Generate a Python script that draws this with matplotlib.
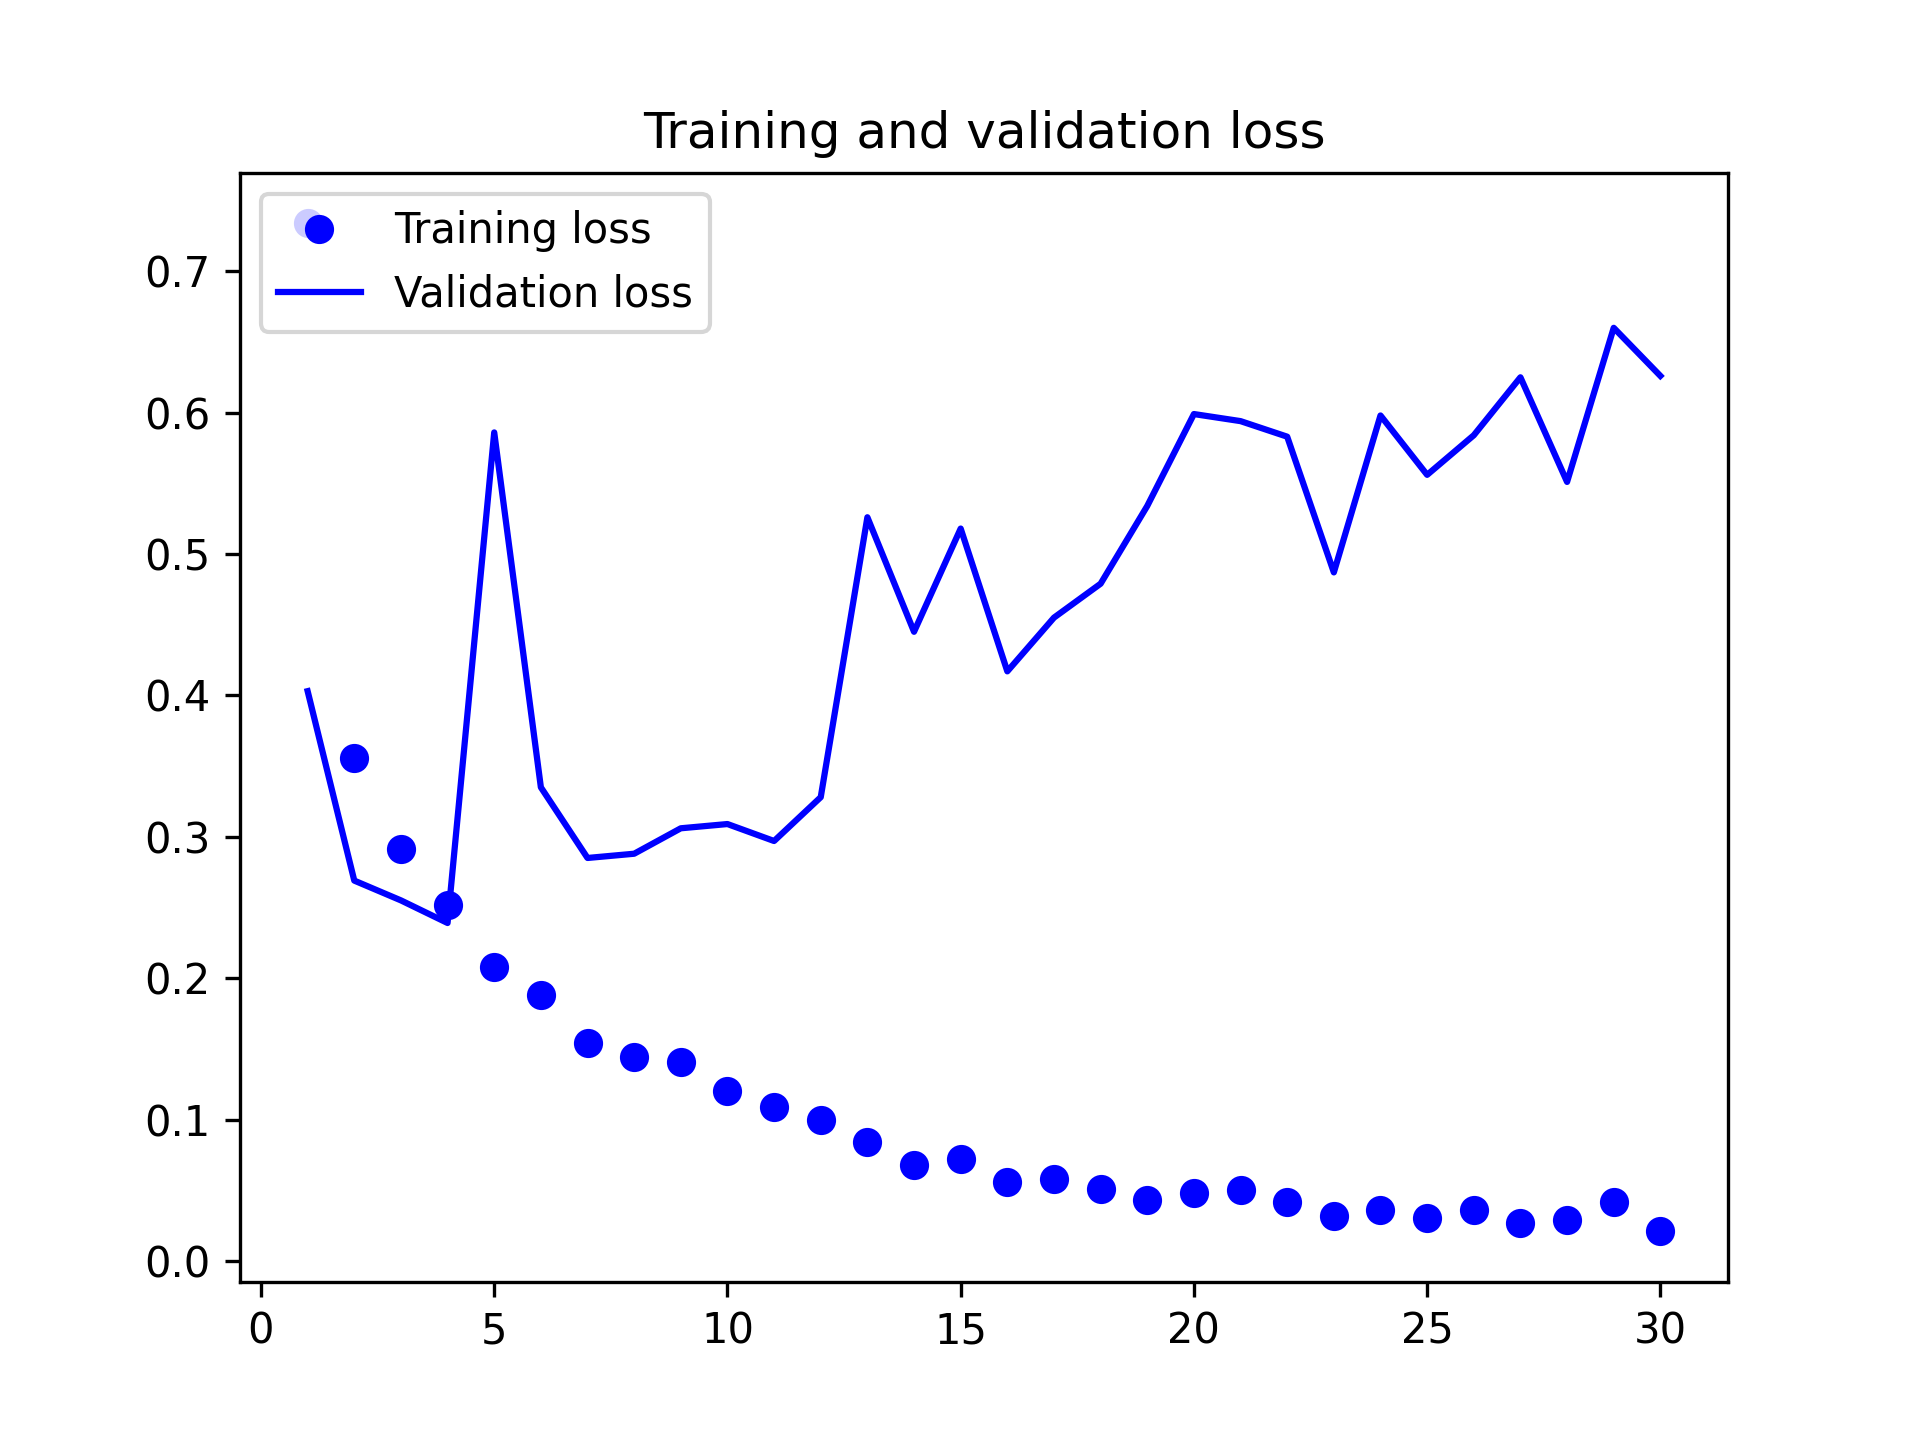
import matplotlib
matplotlib.use("Agg")
import matplotlib.pyplot as plt

# loss values per epoch
epochs = list(range(1, 31))
train_loss = [0.734, 0.356, 0.291, 0.252, 0.208, 0.188, 0.154, 0.144, 0.141, 0.120,
              0.109, 0.100, 0.084, 0.068, 0.072, 0.056, 0.058, 0.051, 0.043, 0.048,
              0.050, 0.042, 0.032, 0.036, 0.030, 0.036, 0.027, 0.029, 0.042, 0.021]
val_loss = [0.403, 0.269, 0.255, 0.239, 0.586, 0.335, 0.285, 0.288, 0.306, 0.309,
            0.297, 0.328, 0.526, 0.445, 0.518, 0.417, 0.455, 0.479, 0.534, 0.599,
            0.594, 0.583, 0.487, 0.598, 0.556, 0.584, 0.625, 0.551, 0.660, 0.626]

plt.figure(figsize=(6.4, 4.8), dpi=300)
plt.plot(epochs, train_loss, 'bo', label='Training loss')
plt.plot(epochs, val_loss, 'b', label='Validation loss')
plt.title('Training and validation loss')
plt.legend(loc='upper left')

plt.savefig('out.png', dpi=300)
